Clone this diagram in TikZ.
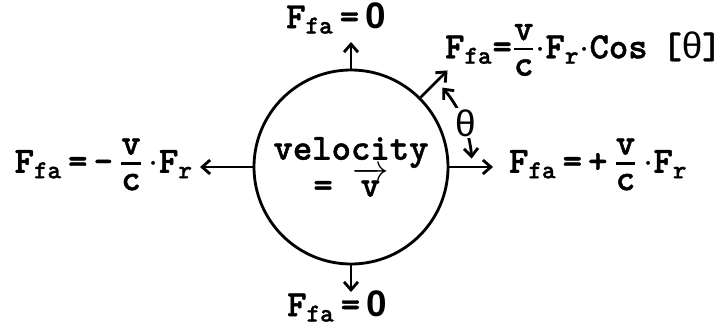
\documentclass[tikz,border=0pt]{standalone}
\usepackage{amsmath}
\usepackage{fontspec}
\newfontfamily\courfont{lmmonolt10-bold.otf}[FakeBold=1.2]
\newfontfamily\grkfont{Liberation Sans}
\usetikzlibrary{arrows.meta}
\newcommand{\Ffa}{F\textsubscript{fa}}
\newcommand{\Fr}{F\textsubscript{r}}
\newcommand{\vfrac}{$\genfrac{}{}{1.4pt}{1}{\mbox{v}\rule[-3pt]{0pt}{3pt}}{\mbox{c}\rule{0pt}{13pt}}$}

\begin{document}
\begin{tikzpicture}[
      >={Straight Barb[length=1.6mm,width=2.8mm]},
      force/.style={->,line width=1.6pt},
      lbl/.style={inner sep=1pt,font=\fontsize{21}{24}\selectfont\courfont}
    ]
    \useasboundingbox (-7.02,-3.18) rectangle (7.48,3.34);
    \node[draw,circle,line width=1.6pt,minimum size=3.88cm,inner sep=0pt,
      align=center,lbl] (body) at (0,0)
      {velocity\\[-3pt]= $\overrightarrow{\mbox{v}}$};

    \coordinate (topend) at (0,2.50);
    \coordinate (botend) at (0,-2.50);
    \coordinate (leftend) at (-3.02,0);
    \coordinate (rightend) at (2.84,0);
    \coordinate (diagend) at (45:2.73);

    \draw[force] (body.north) -- (topend);
    \draw[force] (body.south) -- (botend);
    \draw[force] (body.west) -- (leftend);
    \draw[force] (body.east) -- (rightend);
    \draw[force] (body.45) -- (diagend);

    \node[lbl] (ftop) at (-0.30,2.98) {\Ffa\,=\,{\grkfont\bfseries 0}};
    \node[lbl] (fbot) at (-0.28,-2.78) {\Ffa\,=\,{\grkfont\bfseries 0}};
    \node[lbl,anchor=east] (fleft) at (-3.12,0.05)
      {\Ffa\,=\,-\,\vfrac\,$\cdot$\Fr};
    \node[lbl,anchor=west] (fright) at (3.12,0.05)
      {\Ffa\,=\,+\,\vfrac\,$\cdot$\Fr};
    \node[lbl,anchor=west] (fdiag) at (1.84,2.34)
      {\Ffa=\vfrac$\cdot$\Fr$\cdot$Cos\hspace{.4em}[{\grkfont θ}]};

    % angle between the two forces
    \draw[<->,line width=1.6pt] (4:2.42) arc[start angle=4,end angle=41,radius=2.42];
    \node[fill=white,inner sep=1pt,font=\fontsize{21}{24}\selectfont\grkfont]
      (theta) at (21:2.45) {θ};
  \end{tikzpicture}
\end{document}
